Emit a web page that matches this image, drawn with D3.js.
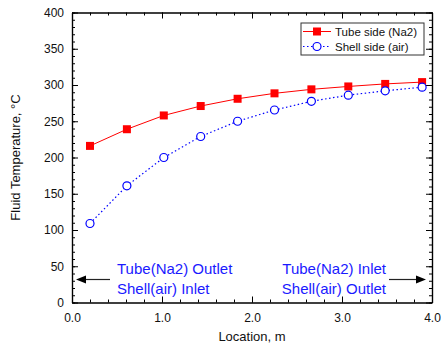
<!DOCTYPE html>
<html>
<head>
<meta charset="utf-8">
<script src="https://cdn.jsdelivr.net/npm/d3@7"></script>
<style>
  body { margin: 0; background: #fff; }
  text { font-family: "Liberation Sans", Arial, sans-serif; }
</style>
</head>
<body>
<div id="chart"></div>
<script>
// data
var location_m = [0.2, 0.61, 1.02, 1.43, 1.84, 2.25, 2.66, 3.07, 3.48, 3.89]
var tubeTemp = [216, 239, 258, 271, 281, 288.5, 294, 298, 301.5, 304]
var shellTemp = [109, 161, 200, 229, 250, 265.5, 277.5, 286, 292, 297]
var xTicks = [0, 1, 2, 3, 4]
var yTicks = [0, 50, 100, 150, 200, 250, 300, 350, 400]
var seriesNames = ["Tube side (Na2)", "Shell side (air)"]

var W = 441, H = 351
var margin = {top: 12.5, right: 9, bottom: 48.5, left: 72}
var width = W - margin.left - margin.right
var height = H - margin.top - margin.bottom

var svg = d3.select("#chart").append("svg")
    .attr("width", W)
    .attr("height", H)

var g = svg.append("g")
    .attr("transform", "translate(" + margin.left + "," + margin.top + ")")

var x = d3.scaleLinear().domain([0, 4]).range([0, width])
var y = d3.scaleLinear().domain([0, 400]).range([height, 0])

var minorX = d3.range(0, 4.001, 0.2)
var minorY = d3.range(0, 401, 10)

// axes with inward ticks
function tickAxis(axis, vals, len, fmt) {
  return axis.tickValues(vals).tickSizeInner(-len).tickSizeOuter(0).tickFormat(fmt)
}
var none = function() { return "" }

// minor ticks
g.append("g").attr("transform", "translate(0," + height + ")")
  .call(tickAxis(d3.axisBottom(x), minorX, 3, none))
g.append("g")
  .call(tickAxis(d3.axisTop(x), minorX, 3, none))
g.append("g")
  .call(tickAxis(d3.axisLeft(y), minorY, 3, none))
g.append("g").attr("transform", "translate(" + width + ",0)")
  .call(tickAxis(d3.axisRight(y), minorY, 3, none))

// major ticks
g.append("g").attr("class", "xaxis").attr("transform", "translate(0," + height + ")")
  .call(tickAxis(d3.axisBottom(x), xTicks, 6, d3.format(".1f")))
g.append("g")
  .call(tickAxis(d3.axisTop(x), xTicks, 6, none))
g.append("g").attr("class", "yaxis")
  .call(tickAxis(d3.axisLeft(y), yTicks, 6, d3.format("d")))
g.append("g").attr("transform", "translate(" + width + ",0)")
  .call(tickAxis(d3.axisRight(y), yTicks, 6, none))

g.selectAll(".domain").attr("stroke", "#000").attr("stroke-width", 1.2)
g.selectAll(".tick line").attr("stroke", "#000")
g.selectAll(".xaxis text").attr("font-size", 12).attr("dy", 0).attr("y", 19)
  .attr("font-family", "Liberation Sans, Arial, sans-serif").attr("fill", "#111")
g.selectAll(".yaxis text").attr("font-size", 12).attr("x", -8)
  .attr("font-family", "Liberation Sans, Arial, sans-serif").attr("fill", "#111")

// lines
var tubeData = location_m.map(function(d, i) { return [d, tubeTemp[i]] })
var shellData = location_m.map(function(d, i) { return [d, shellTemp[i]] })
var line = d3.line().x(function(d) { return x(d[0]) }).y(function(d) { return y(d[1]) })

g.append("path").datum(tubeData)
  .attr("d", line).attr("fill", "none").attr("stroke", "#ff0000").attr("stroke-width", 1)
g.append("path").datum(shellData)
  .attr("d", line).attr("fill", "none").attr("stroke", "#0000ff").attr("stroke-width", 1.2)
  .attr("stroke-dasharray", "1.5,2.5")

g.selectAll(".sq").data(tubeData).enter().append("rect")
  .attr("x", function(d) { return x(d[0]) - 4 })
  .attr("y", function(d) { return y(d[1]) - 4 })
  .attr("width", 8).attr("height", 8).attr("fill", "#ff0000")

g.selectAll(".ci").data(shellData).enter().append("circle")
  .attr("cx", function(d) { return x(d[0]) })
  .attr("cy", function(d) { return y(d[1]) })
  .attr("r", 4).attr("fill", "#fff").attr("stroke", "#0000ff").attr("stroke-width", 1.2)

// legend
var leg = svg.append("g").attr("transform", "translate(301,23)")
leg.append("rect").attr("width", 123).attr("height", 32)
  .attr("fill", "#fff").attr("stroke", "#333").attr("stroke-width", 1)
leg.append("line").attr("x1", 2).attr("x2", 30).attr("y1", 8.5).attr("y2", 8.5)
  .attr("stroke", "#ff0000")
leg.append("rect").attr("x", 12).attr("y", 4.5).attr("width", 8).attr("height", 8).attr("fill", "#ff0000")
leg.append("line").attr("x1", 2).attr("x2", 30).attr("y1", 23.5).attr("y2", 23.5)
  .attr("stroke", "#0000ff").attr("stroke-width", 1.2).attr("stroke-dasharray", "1.5,2.5")
leg.append("circle").attr("cx", 16).attr("cy", 23.5).attr("r", 4)
  .attr("fill", "#fff").attr("stroke", "#0000ff").attr("stroke-width", 1.2)
leg.selectAll(".lt").data(seriesNames).enter().append("text")
  .attr("x", 34).attr("y", function(d, i) { return 12.5 + i * 15 })
  .attr("font-size", 11.5).attr("fill", "#111").text(function(d) { return d })

// annotations
var annoColor = "#1a1aff"
svg.append("text").attr("x", 117).attr("y", 274).attr("font-size", 15).attr("fill", annoColor)
  .text("Tube(Na2) Outlet")
svg.append("text").attr("x", 117).attr("y", 294).attr("font-size", 15).attr("fill", annoColor)
  .text("Shell(air) Inlet")
svg.append("text").attr("x", 386).attr("y", 274).attr("font-size", 15).attr("fill", annoColor)
  .attr("text-anchor", "end").text("Tube(Na2) Inlet")
svg.append("text").attr("x", 386).attr("y", 294).attr("font-size", 15).attr("fill", annoColor)
  .attr("text-anchor", "end").text("Shell(air) Outlet")

// arrows
svg.append("line").attr("x1", 110).attr("x2", 84).attr("y1", 279.5).attr("y2", 279.5)
  .attr("stroke", "#222").attr("stroke-width", 1.2)
svg.append("path").attr("d", "M76,279.5 L86,275.5 L86,283.5 Z").attr("fill", "#000")
svg.append("line").attr("x1", 389).attr("x2", 418).attr("y1", 279.5).attr("y2", 279.5)
  .attr("stroke", "#222").attr("stroke-width", 1.2)
svg.append("path").attr("d", "M426,279.5 L416,275.5 L416,283.5 Z").attr("fill", "#000")

// axis titles
svg.append("text").attr("x", margin.left + width / 2).attr("y", 341)
  .attr("text-anchor", "middle").attr("font-size", 13).attr("fill", "#111")
  .text("Location, m")
svg.append("text")
  .attr("transform", "translate(20," + (margin.top + height / 2) + ") rotate(-90)")
  .attr("text-anchor", "middle").attr("font-size", 13).attr("fill", "#111")
  .text("Fluid Temperature, °C")
</script>
</body>
</html>
